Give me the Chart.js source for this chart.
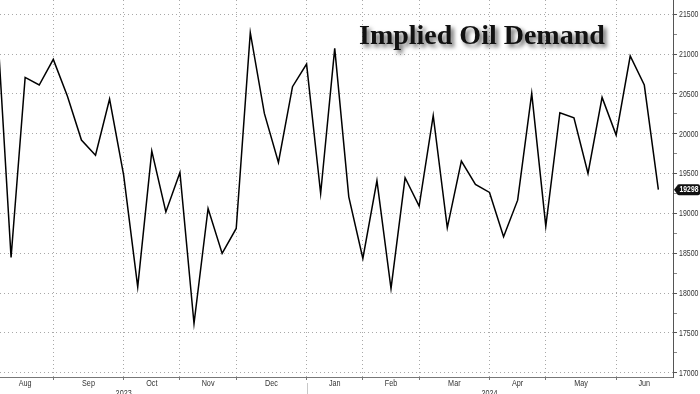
<!DOCTYPE html>
<html>
<head>
<meta charset="utf-8">
<script src="https://cdn.jsdelivr.net/npm/chart.js@4"></script>
<style>
  body { margin: 0; background: #fff; }
  canvas { display: block; }
</style>
</head>
<body>
<canvas id="oilChart" width="700" height="394"></canvas>
<script>
// weekly implied oil demand (kb/d), Jul 2023 - Jun 2024
var demand = [
    21420, 18446, 20707, 20611, 20933, 20472, 19920, 19731, 20435, 19480,
    18077, 19782, 19019, 19514, 17617, 19062, 18497, 18811, 21268, 20255,
    19640, 20590, 20874, 19250, 21071, 19208, 18434, 19412, 18057, 19447,
    19091, 20226, 18819, 19656, 19363, 19263, 18706, 19166, 20506, 18840,
    20263, 20200, 19502, 20456, 19983, 20975, 20611, 19298
];
// week index where each month begins (first and last are the chart edges)
var monthBounds = [0, 4, 9, 13, 17, 22, 26, 30, 35, 39, 44, 48];
var monthLabels = ['Aug', 'Sep', 'Oct', 'Nov', 'Dec', 'Jan', 'Feb', 'Mar', 'Apr', 'May', 'Jun'];
var yearLabels = ['2023', '2024'];
var yearPos = [9, 35];
var yearBreak = 22;
var yTicks = [17000, 17250, 17500, 17750, 18000, 18250, 18500, 18750, 19000, 19250,
    19500, 19750, 20000, 20250, 20500, 20750, 21000, 21250, 21500];

var smallFont = '8.5px "Liberation Sans Narrow", "Liberation Sans", Arial, sans-serif';

// draw text squeezed horizontally (the original uses a narrow face)
function narrowText(ctx, text, cx, cy, squeeze) {
    ctx.save();
    ctx.translate(cx, cy);
    ctx.scale(squeeze, 1);
    ctx.fillText(text, 0, 0);
    ctx.restore();
}

var overlay = {
    id: 'overlay',
    afterDraw: function(chart) {
        var ctx = chart.ctx;
        var x = chart.scales.x, y = chart.scales.y;
        var area = chart.chartArea;
        ctx.save();

        // month labels centred in each month
        ctx.font = smallFont;
        ctx.fillStyle = '#333';
        ctx.textAlign = 'center';
        ctx.textBaseline = 'middle';
        for (var i = 0; i < monthLabels.length; i++) {
            var mid = (monthBounds[i] + monthBounds[i + 1]) / 2;
            narrowText(ctx, monthLabels[i], x.getPixelForValue(mid), area.bottom + 6.5, 0.85);
        }
        // years (cut off at the bottom like the original)
        ctx.textBaseline = 'alphabetic';
        for (var j = 0; j < yearLabels.length; j++) {
            narrowText(ctx, yearLabels[j], x.getPixelForValue(yearPos[j]), area.bottom + 19, 0.85);
        }
        // year separator
        var bx = Math.round(x.getPixelForValue(yearBreak)) + 0.5;
        ctx.strokeStyle = '#c8c8c8';
        ctx.lineWidth = 1;
        ctx.beginPath();
        ctx.moveTo(bx, area.bottom + 6);
        ctx.lineTo(bx, chart.height);
        ctx.stroke();

        // y labels on the right
        ctx.textAlign = 'left';
        ctx.textBaseline = 'middle';
        yTicks.forEach(function(v) {
            if (v % 500 === 0) {
                narrowText(ctx, String(v), area.right + 6, y.getPixelForValue(v) + 0.5, 0.82);
            }
        });

        // last value badge
        var last = demand[demand.length - 1];
        var py = y.getPixelForValue(last);
        var bl = area.right + 4;
        ctx.fillStyle = '#111';
        ctx.beginPath();
        ctx.moveTo(area.right + 1, py);
        ctx.lineTo(bl, py - 4);
        ctx.lineTo(bl, py + 4);
        ctx.closePath();
        ctx.fill();
        ctx.beginPath();
        ctx.roundRect(bl, py - 5.5, chart.width - bl, 11, 2);
        ctx.fill();
        ctx.fillStyle = '#fff';
        ctx.font = 'bold ' + smallFont;
        ctx.textAlign = 'center';
        narrowText(ctx, String(last), (bl + chart.width) / 2 + 0.5, py + 0.5, 0.8);

        // title
        ctx.font = 'bold 28px "Liberation Serif", "Times New Roman", serif';
        ctx.textAlign = 'left';
        ctx.textBaseline = 'alphabetic';
        ctx.shadowColor = 'rgba(0,0,0,0.6)';
        ctx.shadowBlur = 4;
        ctx.shadowOffsetX = 3;
        ctx.shadowOffsetY = 3;
        ctx.fillStyle = '#111';
        ctx.fillText('Implied Oil Demand', 359, 43.5);
        ctx.restore();
    }
};

var ctx = document.getElementById('oilChart').getContext('2d');
var chart = new Chart(ctx, {
    type: 'line',
    data: {
        datasets: [{
            label: 'Implied Oil Demand',
            data: demand.map(function(v, i) { return { x: i, y: v }; }),
            borderColor: '#000',
            borderWidth: 1.5,
            pointRadius: 0,
            tension: 0,
            fill: false
        }]
    },
    options: {
        responsive: false,
        animation: false,
        devicePixelRatio: 1,
        layout: { padding: 0 },
        plugins: {
            legend: { display: false },
            tooltip: { enabled: false }
        },
        scales: {
            x: {
                type: 'linear',
                min: 0.213,
                max: 48.04,
                afterBuildTicks: function(scale) {
                    scale.ticks = monthBounds.slice(1, -1).map(function(v) { return { value: v }; });
                },
                afterFit: function(scale) { scale.height = 17; },
                ticks: { display: false },
                grid: {
                    color: '#a8a8a8',
                    lineWidth: 1,
                    tickLength: 3,
                    tickColor: '#777'
                },
                border: { color: '#777', width: 1, dash: [1, 3] }
            },
            y: {
                position: 'right',
                min: 16947,
                max: 21678,
                afterBuildTicks: function(scale) {
                    scale.ticks = yTicks.map(function(v) { return { value: v }; });
                },
                afterFit: function(scale) {
                    scale.width = 27;
                    scale.paddingTop = 0;
                    scale.paddingBottom = 0;
                },
                ticks: { display: false },
                grid: {
                    color: function(c) { return c.tick && c.tick.value % 500 === 0 ? '#a8a8a8' : 'rgba(0,0,0,0)'; },
                    lineWidth: 1,
                    tickLength: 4,
                    tickColor: function(c) { return c.tick && c.tick.value % 500 === 0 ? '#555' : '#888'; }
                },
                border: { color: '#555', width: 1, dash: [1, 3] }
            }
        }
    },
    plugins: [overlay]
});
</script>
</body>
</html>
